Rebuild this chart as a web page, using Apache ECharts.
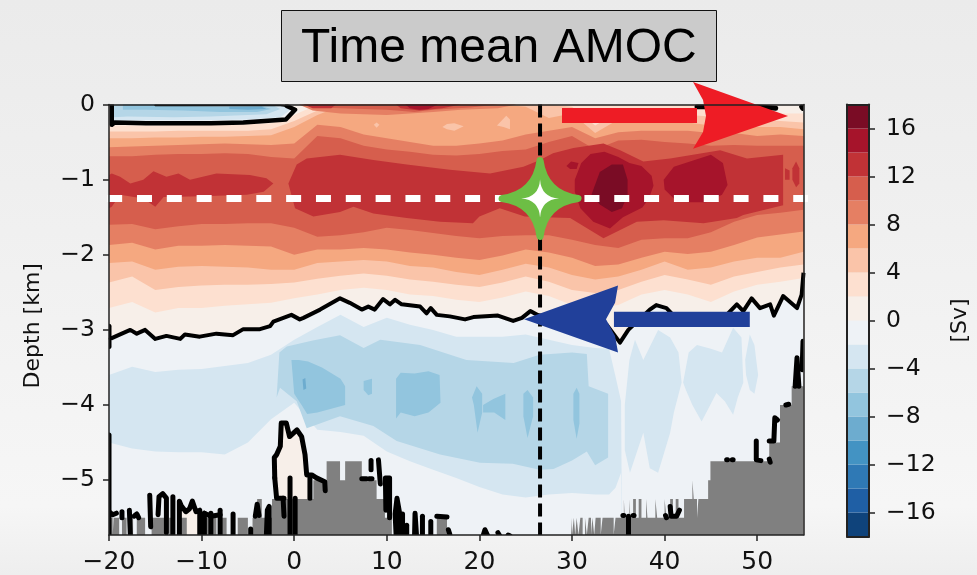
<!DOCTYPE html>
<html><head><meta charset="utf-8">
<style>html,body{margin:0;padding:0;background:#f0f0f0}#c{width:977px;height:575px}</style>
<script src="https://cdn.jsdelivr.net/npm/echarts@6/dist/echarts.min.js"></script>
</head><body><div id="c"></div>
<script>
const titleText = 'Time mean AMOC';
const yName = 'Depth [km]';
const cbName = '[Sv]';
const xTicks = [-20,-10,0,10,20,30,40,50];
const yTicks = [0,-1,-2,-3,-4,-5];
const cbTicks = [16,12,8,4,0,-4,-8,-12,-16];
const axisBottom = -5.73;

// colour levels (lower bound -> colour)
const levels = [-18,-16,-14,-12,-10,-8,-6,-4,-2,0,2,4,6,8,10,12,14,16];
const levelColors = ['#0f437b','#1f5fa5','#2f79b5','#4393c3','#6daccf','#92c5de','#b5d6e7','#d5e6f1','#eef2f6',
                     '#f7efe9','#fde0d0','#fac4a9','#f5a880','#e57f63','#d65e4d','#c13236','#a6142b','#7a0c25'];
const col = l => levelColors[levels.indexOf(l)];

const lats = [-20,-17.5,-15,-12.5,-10,-7.5,-5,-2.5,0,2.5,5,7.5,10,12.5,15,17.5,20,22.5,25,27.5,30,32.5,35,37.5,40,42.5,45,47.5,50,52.5,55];
const blueLats = [-20,-17.5,-15,-12.5,-10,-7.5,-5,-2.5,0,2.5,5,7.5,10,12.5,15,17.5,20,22.5,25,27.5,30,32.5,34,34.7,35.3,35.4,55];

// depth of contour boundaries, read top to bottom
const top2 = [-.28,-.28,-.28,-.27,-.27,-.27,-.26,-.25,-.14,0,0,0,0,0,0,0,0,0,0,0,0,0,0,0,0,0,-.02,-.06,-.1,-.12,-.12];
const top4 = [-.36,-.36,-.36,-.35,-.35,-.35,-.35,-.33,-.22,-.08,0,0,0,0,0,0,0,0,0,0,-.03,-.28,-.1,-.1,-.12,-.14,-.16,-.18,-.2,-.22,-.24];
const top6 = [-.45,-.45,-.44,-.44,-.43,-.43,-.42,-.41,-.3,-.14,-.02,0,0,0,0,0,0,0,-.03,-.18,-.12,-.38,-.2,-.2,-.22,-.24,-.28,-.28,-.3,-.3,-.33];
const top8 = [-.57,-.56,-.55,-.54,-.53,-.52,-.53,-.54,-.52,-.27,-.3,-.4,-.45,-.5,-.55,-.55,-.52,-.48,-.4,-.35,-.3,-.45,-.37,-.35,-.35,-.35,-.38,-.38,-.42,-.4,-.42];
const top10 = [-.69,-.69,-.67,-.66,-.66,-.65,-.66,-.7,-.72,-.42,-.45,-.55,-.6,-.63,-.67,-.68,-.66,-.62,-.6,-.5,-.42,-.6,-.48,-.47,-.5,-.52,-.55,-.54,-.55,-.55,-.55];
const low8 = [-1.6,-1.59,-1.66,-1.62,-1.59,-1.59,-1.58,-1.58,-1.64,-1.76,-1.74,-1.7,-1.64,-1.67,-1.71,-1.75,-1.78,-1.75,-1.74,-1.74,-1.8,-1.87,-1.91,-1.8,-1.78,-1.78,-1.7,-1.56,-1.47,-1.44,-1.4];
const low6 = [-1.87,-1.84,-1.93,-1.88,-1.88,-1.87,-1.88,-1.89,-2,-1.93,-1.93,-1.91,-1.93,-1.97,-2,-2.04,-2.07,-2.01,-1.93,-1.97,-2.04,-2.15,-2.13,-2.04,-1.96,-1.99,-1.96,-1.87,-1.77,-1.73,-1.69];
const low4 = [-2.11,-2.09,-2.2,-2.16,-2.15,-2.16,-2.17,-2.2,-2.2,-2.11,-2.09,-2.07,-2.09,-2.15,-2.17,-2.23,-2.27,-2.2,-2.12,-2.17,-2.27,-2.33,-2.29,-2.2,-2.09,-2.2,-2.17,-2.09,-2.04,-2.04,-1.96];
const low2 = [-2.37,-2.29,-2.47,-2.43,-2.41,-2.4,-2.4,-2.39,-2.37,-2.32,-2.28,-2.25,-2.28,-2.33,-2.36,-2.4,-2.43,-2.37,-2.29,-2.36,-2.47,-2.51,-2.47,-2.36,-2.27,-2.33,-2.4,-2.29,-2.23,-2.17,-2.13];
const low0 = [-2.71,-2.63,-2.77,-2.71,-2.71,-2.68,-2.66,-2.64,-2.58,-2.53,-2.47,-2.44,-2.47,-2.53,-2.55,-2.6,-2.63,-2.57,-2.49,-2.55,-2.67,-2.71,-2.67,-2.53,-2.47,-2.53,-2.63,-2.49,-2.4,-2.36,-2.31];
const blueTop = [-3.6,-3.49,-3.56,-3.53,-3.52,-3.48,-3.44,-3.33,-3.13,-2.96,-2.8,-2.96,-2.84,-2.93,-3,-3.09,-3.09,-3.09,-3.06,-3.13,-3.2,-3.24,-3.25,-3.62,-3.95,-5.73,-5.73];
const blueBottom = [-4.5,-4.58,-4.62,-4.63,-4.63,-4.66,-4.5,-4.19,-3.97,-4.33,-4.36,-4.41,-4.62,-4.75,-4.86,-4.97,-5.09,-5.19,-5.23,-5.19,-5.17,-5.19,-5.19,-5.1,-4.9,-5.73,-5.73];

// the zero contour of the overturning cell
const zeroContour = [[-20,-3.1],[-19.7,-3.11],[-18.8,-3.06],[-17.7,-3],[-17,-3.05],[-16.1,-3],[-15,-3.12],[-13.8,-3.08],[-12.3,-3.12],[-11.8,-3.06],[-10.2,-3.09],[-8.4,-3.05],[-6.6,-3.07],[-5.5,-2.99],[-3.7,-2.99],[-2.6,-2.95],[-2.25,-2.89],[-.3,-2.8],[.6,-2.86],[1,-2.84],[2.8,-2.73],[4.95,-2.58],[6,-2.64],[7.3,-2.73],[8,-2.69],[8.7,-2.73],[9.6,-2.59],[10.35,-2.66],[10.9,-2.6],[11.6,-2.66],[13.6,-2.69],[14.3,-2.78],[14.75,-2.71],[15.4,-2.8],[16.8,-2.82],[18.45,-2.86],[19.35,-2.83],[22,-2.81],[23.65,-2.88],[24.6,-2.84],[25.5,-2.75],[26.55,-2.82],[27.5,-2.85],[29,-2.9],[31,-2.9],[33.74,-2.93],[35.18,-3.17],[36.08,-3],[38.4,-2.73],[39.1,-2.67],[40.2,-2.71],[40.9,-2.8],[43,-2.85],[45,-2.85],[46.7,-2.8],[47.8,-2.66],[48.5,-2.75],[49.4,-2.58],[50.3,-2.71],[51.4,-2.66],[51.8,-2.81],[52.8,-2.55],[54.3,-2.71],[54.8,-2.53],[55,-2.24]];

// closed contour patches, as [lat, depth] outlines
const surfaceCell = [[-19.7,-.01],[-19.7,-.27],[-19.4,-.24],[-16,-.25],[-13,-.25],[-9,-.25],[-5.5,-.24],[-.9,-.2],[.09,-.07],[-.8,-.02],[-1.5,-.01],[-5,-.01]];
const surfaceN2 = [[-19.7,0],[-1.5,0],[-.4,-.07],[-1.5,-.17],[-5,-.2],[-10,-.21],[-15,-.21],[-19.7,-.22]];
const surfaceN4 = [[-19.5,0],[-2.5,0],[-1.5,-.06],[-3,-.13],[-9,-.16],[-13,-.17],[-18,-.16],[-19.5,-.17]];
const surfaceN6 = [[-18.5,0],[-15,0],[-12,-.02],[-8,-.03],[-3.5,-.02],[-2.5,-.06],[-4,-.1],[-8,-.1],[-12,-.08],[-16,-.07],[-18.5,-.07]];
const surfaceN8 = [[-7,-.03],[-3.5,-.03],[-3,-.06],[-5,-.07],[-7,-.06]];
const surfaceP8 = [[.5,0],[24,0],[22,-.05],[18,-.07],[15,-.1],[10,-.14],[5,-.12],[2,-.08]];
const surfaceP10 = [[.8,0],[22,0],[19,-.04],[15,-.07],[13,-.1],[10,-.07],[5,-.05],[3,-.04]];
const surfaceP12a = [[1,0],[4.5,0],[4,-.05],[2,-.05]];
const surfaceP12b = [[11,0],[18,0],[16,-.05],[13.5,-.08],[11.5,-.05]];
const surfaceP14 = [[12,0],[15.5,0],[14.5,-.06],[13.5,-.07],[12.5,-.05]];
const light4a = [[8.6,-.27],[8.9,-.24],[9.2,-.27],[8.9,-.31]];
const light4b = [[16,-.3],[16.5,-.26],[17.3,-.25],[18.3,-.29],[17.3,-.35],[16.5,-.33]];
const light4c = [[21.9,-.28],[22.9,-.15],[23.3,-.2],[23.3,-.33],[22.6,-.3]];
const core12Left = [[-20,-.94],[-19.7,-.92],[-18.8,-.96],[-17.7,-1.05],[-16.3,-1],[-15.2,-.89],[-13.8,-.96],[-12.5,-.92],[-11.25,-1],[-8.4,-.92],[-4.8,-.94],[-3,-.98],[-2.25,-1.05],[-3.3,-1.16],[-5.1,-1.2],[-10,-1.22],[-14.1,-1.23],[-15,-1.36],[-16.3,-1.25],[-18.8,-1.2],[-19.7,-1.36],[-20,-1.38]];
const core12Main = [[-.63,-1.05],[.27,-.8],[1.35,-.72],[4.95,-.67],[8.55,-.74],[12.15,-.8],[16.8,-.87],[21.15,-.92],[24.75,-.83],[26.55,-.74],[27.95,-.65],[30.15,-.58],[33.4,-.52],[35.2,-.61],[37.7,-.76],[40.6,-.72],[46,-.61],[48.9,-.72],[52.8,-.67],[52.8,-1.07],[52.8,-1.34],[48.5,-1.47],[47.8,-1.51],[44.2,-1.58],[39.9,-1.54],[37,-1.56],[33.4,-1.78],[29.8,-1.51],[27,-1.5],[24.9,-1.49],[22.2,-1.38],[20,-1.49],[19.3,-1.58],[15.75,-1.56],[12.15,-1.51],[8.55,-1.45],[6.4,-1.36],[4.95,-1.43],[2.07,-1.49],[.09,-1.38]];
const core12c = [[53,-.85],[53.5,-.88],[53.5,-1],[53,-1]];
const core12d = [[53.8,-.85],[54.2,-.76],[54.55,-.85],[54.55,-1.05],[54.2,-1.1],[53.8,-1]];
const core14a = [[30.3,-1],[31,-.78],[32,-.66],[33.5,-.63],[35,-.7],[36.2,-.78],[37.5,-.82],[38.6,-.95],[38.8,-1.08],[38.3,-1.25],[37.6,-1.37],[35.5,-1.5],[34.1,-1.65],[32.3,-1.56],[30.9,-1.38],[30.3,-1.16]];
const core14b = [[39.9,-1],[41,-.83],[43,-.75],[45,-.67],[46.3,-.78],[46.8,-1.07],[46.2,-1.2],[44.5,-1.3],[42.6,-1.3],[41,-1.25],[40,-1.13]];
const core14c = [[29.4,-.82],[29.9,-.76],[30.7,-.78],[30.5,-.86],[29.8,-.86]];
const core16 = [[32.1,-1.2],[33,-.9],[34.3,-.8],[35.5,-.8],[36,-1],[36,-1.2],[35.4,-1.38],[34.3,-1.43],[33,-1.33]];
const deepN6 = [[-1.9,-3.9],[-1.6,-3.3],[-.8,-3.22],[2,-3.14],[4.95,-3.07],[7.5,-3.24],[9.3,-3.13],[13.6,-3.2],[18.6,-3.4],[23.7,-3.44],[26.5,-3.33],[30,-3.3],[31.6,-3.32],[31.8,-3.75],[33.9,-3.85],[33.9,-4.7],[32.5,-4.8],[31.6,-4.62],[30,-4.74],[28,-4.85],[26.5,-4.86],[23.6,-4.78],[20.07,-4.77],[15.75,-4.66],[11.07,-4.48],[8.55,-4.28],[4.95,-4.15],[1.35,-4.31],[.27,-3.95],[-1.53,-3.77]];
const deepN8a = [[-.3,-3.4],[.5,-3.4],[1.5,-3.42],[3,-3.5],[5,-3.65],[5.5,-3.75],[5.5,-4],[4,-4.05],[2.5,-4.1],[1.4,-4.12],[.8,-4],[0,-3.85]];
const deepN8b = [[11,-3.65],[11.5,-3.57],[13,-3.58],[14.5,-3.55],[15.7,-3.6],[15.8,-3.97],[14.5,-4.1],[13,-4.15],[11.5,-4.1],[11,-4.18]];
const deepN8c = [[19.2,-3.9],[19.7,-3.75],[20.3,-3.85],[20.3,-4.1],[19.8,-4.37],[19.4,-4]];
const deepN8d = [[20.4,-4],[21.5,-3.92],[22.8,-3.85],[22.8,-4.2],[21.6,-4.1],[20.4,-4.1]];
const deepN8e = [[24.75,-3.85],[25.2,-3.8],[25.8,-3.9],[25.8,-4.15],[25.2,-4.44],[24.75,-4.15]];
const deepN8f = [[30.15,-3.85],[30.5,-3.77],[30.8,-3.85],[30.8,-4.25],[30.5,-4.45],[30.15,-4.2]];
const deepN8g = [[7.5,-3.68],[8.4,-3.65],[8.4,-3.85],[8,-3.87],[7.5,-3.8]];
const deepN10 = [[.9,-3.66],[1.2,-3.64],[1.3,-3.78],[1,-3.8]];
const plumeA = [[35.7,-4],[36.2,-3.4],[36.8,-3.13],[37.7,-3.4],[39.3,-3],[40.6,-3.1],[41.5,-3.3],[41.84,-3.7],[41,-4.1],[40.6,-4.37],[39.3,-4.9],[38.4,-4.84],[37.7,-4.37],[36.26,-4.9],[35.7,-4.6]];
const plumeB = [[42,-3.7],[42.6,-3.3],[43.5,-3.2],[45,-3.25],[46.2,-3.3],[47.4,-2.97],[48.3,-3.1],[48.5,-3.7],[47.9,-3.9],[47.4,-4.13],[46.5,-3.95],[45.6,-3.84],[44,-4.22],[43,-4],[42.3,-3.8]];
const plumeC = [[48.7,-3.4],[49.2,-3.06],[49.7,-3.2],[50.1,-3.6],[49.7,-3.85],[49.2,-3.8],[48.8,-3.6]];
const seamountCell = [[-2.07,-5.25],[-2.1,-4.97],[-2.15,-4.7],[-1.9,-4.66],[-1.5,-4.55],[-1.4,-4.24],[-.85,-4.24],[-.5,-4.42],[.3,-4.33],[.8,-4.42],[1.17,-4.66],[1.35,-4.93],[1.9,-4.93],[1.9,-5.25]];
const ridgeCell = [[-12.3,-5.72],[-12.3,-5.35],[-11.7,-5.42],[-11,-5.3],[-10.3,-5.42],[-10.3,-5.72]];

// bottom topography, step edges
const bathymetry = [[-20,-5.5],[-19.6,-5.73],[-19.5,-5.5],[-18.9,-5.73],[-18.6,-5.5],[-18.1,-5.73],[-17.8,-5.5],[-17.4,-5.73],[-17,-5.5],[-16.1,-5.73],[-15.4,-5.5],[-14,-5.73],[-13.5,-5.5],[-13.1,-5.73],[-12.3,-5.5],[-11.6,-5.73],[-10.2,-5.5],[-8.4,-5.73],[-7.9,-5.5],[-7.3,-5.73],[-6.7,-5.5],[-6.4,-5.73],[-6.1,-5.5],[-5,-5.73],[-4.5,-5.5],[-4,-5.25],[-3.5,-5.5],[-2.4,-5.25],[2.07,-5],[3.5,-4.75],[4.95,-5],[5.5,-4.75],[7.3,-5],[8.9,-5.25],[9.8,-5.5],[10.55,-5.73],[15.4,-5.5],[16.5,-5.73],[29.9,-5.5],[30,-5.73],[30.2,-5.5],[30.35,-5.73],[30.5,-5.5],[30.7,-5.73],[30.9,-5.5],[31.15,-5.73],[31.4,-5.5],[31.6,-5.73],[31.8,-5.5],[32.05,-5.73],[32.2,-5.5],[32.4,-5.73],[32.55,-5.5],[33.1,-5.73],[33.3,-5.5],[34.5,-5.73],[34.7,-5.5],[35.6,-5.25],[35.7,-5.5],[36.2,-5.25],[36.3,-5.5],[36.6,-5.25],[36.9,-5.5],[37.2,-5.25],[37.5,-5.5],[38,-5.25],[38.15,-5.5],[39,-5.25],[39.2,-5.5],[40,-5.25],[40.2,-5.5],[40.6,-5.25],[40.9,-5.5],[41.2,-5.25],[41.5,-5.5],[42.1,-5.25],[43,-5],[43.15,-5.25],[43.5,-5.5],[43.65,-5.25],[44.7,-5],[44.95,-4.75],[51.3,-4.5],[52.46,-4],[53.72,-3.75],[55,-3.75]];

// zero contour pieces that hug the bottom
const seabedContours = [
 [[-20,-2.95],[-20,-3.22]],[[-20,-4.4],[-20,-5.73]],
 [[-20,-5.42],[-19.6,-5.46],[-19.2,-5.44]],[[-18.6,-5.42],[-18.6,-5.5]],[[-17.8,-5.4],[-17.7,-5.72]],[[-17.3,-5.48],[-17,-5.45],[-16.8,-5.5]],
 [[-15.6,-5.2],[-15.5,-5.62]],[[-14.7,-5.46],[-14.6,-5.22],[-14.2,-5.18],[-13.8,-5.24],[-13.8,-5.7]],[[-13.1,-5.22],[-13.1,-5.72]],
 [[-12.4,-5.72],[-12.4,-5.28],[-12.2,-5.34],[-11.7,-5.42],[-11.3,-5.38],[-11,-5.28],[-10.6,-5.42],[-10.2,-5.4],[-10.2,-5.72]],
 [[-9.7,-5.44],[-9.7,-5.72]],[[-9,-5.44],[-9,-5.72]],[[-9.7,-5.44],[-9,-5.48],[-8,-5.46]],[[-8,-5.4],[-8,-5.72]],[[-6.6,-5.45],[-6.6,-5.72]],[[-4.7,-5.65],[-4.7,-5.72]],
 [[-4.2,-5.48],[-4,-5.32],[-3.8,-5.47]],[[-3,-5.72],[-2.9,-5.4],[-2.7,-5.35],[-2.7,-5.72]],
 [[-2.1,-4.97],[-2.15,-4.7],[-1.9,-4.66],[-1.5,-4.55],[-1.4,-4.24],[-.85,-4.24],[-.5,-4.42],[.3,-4.33],[.8,-4.42],[1.17,-4.66],[1.35,-4.93],[1.9,-4.93],[2.4,-4.97],[3.3,-5.02],[3.35,-5.14]],
 [[-2.1,-4.97],[-1.9,-5.24],[-1.1,-5.24]],[[-1.2,-5.24],[-1.1,-5.48]],[[-.45,-4.97],[-.45,-5.72]],[[.1,-5.24],[.1,-5.72]],[[1.7,-4.97],[1.7,-5.24]],
 [[7.3,-4.98],[7.8,-4.98]],[[8.1,-4.98],[8.4,-4.98]],[[8.3,-4.74],[8.3,-4.86]],[[9.1,-4.73],[9.3,-5.05]],[[9.9,-5.4],[9.85,-4.97],[10.3,-4.97],[10.3,-5.5]],
 [[11,-5.72],[10.9,-5.45],[11.1,-5.24],[11.4,-5.45],[11.5,-5.72]],[[11.7,-5.45],[11.7,-5.72]],[[12.15,-5.6],[12.15,-5.72]],[[13,-5.72],[13.05,-5.44],[13.2,-5.72]],[[13.85,-5.48],[13.85,-5.72]],[[14.75,-5.55],[14.75,-5.72]],[[15.4,-5.48],[16.5,-5.49]],[[16.65,-5.66],[16.8,-5.72]],
 [[20.4,-5.74],[20.6,-5.66],[20.9,-5.74]],[[22,-5.7],[22.2,-5.74]],[[23.1,-5.73],[23.3,-5.74]],
 [[36.1,-5.48],[36.1,-5.72]],[[35.5,-5.47],[35.6,-5.47]],[[36.6,-5.47],[36.7,-5.47]],[[40.1,-5.47],[40.2,-5.5]],[[40.6,-5.35],[40.7,-5.48],[41.3,-5.48],[41.6,-5.4]],
 [[46.7,-4.73],[46.8,-4.73]],[[47.3,-4.73],[47.4,-4.73]],[[49.9,-4.48],[49.9,-4.73],[50.4,-4.74]],[[51.3,-4.72],[51.4,-4.76]],[[51.3,-4.48],[51.8,-4.48],[51.9,-4.17],[52.2,-4.2]],[[53.1,-4],[53.4,-3.99]],
 [[54.1,-3.75],[54.3,-3.37],[54.5,-3.75]],[[54.95,-3.15],[54.85,-3.53]],
 [[43.5,-.03],[46.3,-.03]],[[50,-.03],[52,-.05]],[[54.8,-.03],[54.9,-.05]]
];
const surfaceLower = surfaceCell.slice(0,10);
const surfaceUpper = surfaceCell.slice(9).concat([[-15,-.01]]);

// annotations
const sectionLat = 26.55;
const sectionDepth = -1.25;
const sectionLine = [[sectionLat,0],[sectionLat,axisBottom]];
const depthLine = [[-20.2,sectionDepth],[57.4,sectionDepth]];
const redBar = [[28.92,-.047],[43.5,-.047],[43.5,-.246],[28.92,-.246]];
const redHead = [[53.33,-.153],[43.07,.3],[44.15,.06],[44.47,-.153],[44.15,-.366],[43.07,-.59]];
const blueBar = [[34.53,-2.76],[49.2,-2.76],[49.2,-2.96],[34.53,-2.96]];
const blueHead = [[24.82,-2.86],[34.97,-2.41],[34.65,-2.64],[33.67,-2.86],[34.65,-3.08],[34.97,-3.3]];

const labelFont = 'DejaVu Sans', tickSize = 23.5, ink = '#111';
const minus = v => String(v).replace('-', '\u2212');
const star = k => `path://M50 0Q${50+k} ${50-k} 100 50Q${50+k} ${50+k} 50 100Q${50-k} ${50+k} 0 50Q${50-k} ${50-k} 50 0Z`;

function horizon(xs, ys, level, z) {
  return {type:'line', data: xs.map((x,i)=>[x,ys[i]]), symbol:'none', silent:true, z:z||2,
    lineStyle:{width:0}, areaStyle:{color:col(level), opacity:1, origin:'start'}};
}
function fills(color, polys, z) {
  return {type:'custom', coordinateSystem:'cartesian2d', silent:true, z:z||2,
    data: polys.map(p=>p[0]),
    renderItem:(params,api)=>({type:'polygon', shape:{points:polys[params.dataIndex].map(pt=>api.coord(pt))}, style:{fill:color}})};
}
function strokes(lines, width, z) {
  return {type:'custom', coordinateSystem:'cartesian2d', silent:true, z:z||4,
    data: lines.map(p=>p[0]),
    renderItem:(params,api)=>({type:'polyline', shape:{points:lines[params.dataIndex].map(pt=>api.coord(pt))},
      clipPath:{type:'rect',shape:{x:params.coordSys.x,y:params.coordSys.y,width:params.coordSys.width,height:params.coordSys.height}},
      style:{fill:'none', stroke:'#000', lineWidth:width, lineCap:'round', lineJoin:'round'}})};
}
const frameX = {min:-20,max:55,interval:10};
const series = [
  {type:'line', data: lats.map(x=>[x,0]), symbol:'none', silent:true, z:2, lineStyle:{width:0}, areaStyle:{color:col(0),opacity:1,origin:'start'}},
  horizon(lats, top2, 2), horizon(lats, top4, 4), horizon(lats, top6, 6), horizon(lats, top8, 8), horizon(lats, top10, 10),
  horizon(lats, low8, 8), horizon(lats, low6, 6), horizon(lats, low4, 4), horizon(lats, low2, 2), horizon(lats, low0, 0),
  {type:'line', data: zeroContour, symbol:'none', silent:true, z:2, lineStyle:{width:0}, areaStyle:{color:col(-2),opacity:1,origin:'start'}},
  horizon(blueLats, blueTop, -4), horizon(blueLats, blueBottom, -2),
  fills(col(-4), [plumeA, plumeB, plumeC]),
  fills(col(-6), [deepN6]),
  fills(col(-8), [deepN8a, deepN8b, deepN8c, deepN8d, deepN8e, deepN8f, deepN8g]),
  fills(col(-10), [deepN10]),
  fills(col(4), [light4a, light4b, light4c]),
  fills(col(8), [surfaceP8]), fills(col(10), [surfaceP10]), fills(col(12), [surfaceP12a, surfaceP12b]), fills(col(14), [surfaceP14]),
  fills(col(12), [core12Left, core12Main, core12c, core12d]),
  fills(col(14), [core14a, core14b, core14c]),
  fills(col(16), [core16]),
  fills(col(-2), [surfaceCell]), fills(col(-4), [surfaceN2]), fills(col(-6), [surfaceN4]), fills(col(-8), [surfaceN6]), fills(col(-10), [surfaceN8]),
  fills(col(0), [seamountCell, ridgeCell]),
  {type:'line', data: bathymetry, step:'end', symbol:'none', silent:true, z:3, lineStyle:{width:0}, areaStyle:{color:'#808080',opacity:1,origin:'start'}},
  {type:'line', data: zeroContour, symbol:'none', silent:true, z:4, lineStyle:{color:'#000',width:4,join:'round'}},
  strokes([surfaceLower], 4.5),
  strokes([surfaceUpper], 2),
  strokes(seabedContours, 5),
  {type:'line', data: sectionLine, symbol:'none', silent:true, z:5, lineStyle:{color:'#000',width:4,type:[13,6]}},
  {type:'line', data: depthLine, symbol:'none', silent:true, clip:false, z:5, lineStyle:{color:'#fff',width:7,type:[15,14.83]}},
  fills('#ee1c25', [redBar, redHead], 6),
  fills('#21409a', [blueBar, blueHead], 6),
  {type:'scatter', data:[[sectionLat,sectionDepth]], symbol:star(6), symbolSize:76, silent:true, clip:false, z:7,
    itemStyle:{color:'#6dbe45', borderColor:'#6dbe45', borderWidth:7, borderJoin:'round', opacity:1}},
  {type:'scatter', data:[[sectionLat,sectionDepth]], symbol:star(3), symbolSize:38, silent:true, clip:false, z:8,
    itemStyle:{color:'#fff', opacity:1}},
  {type:'custom', coordinateSystem:'cartesian2d', xAxisIndex:2, yAxisIndex:2, silent:true, z:2,
    data: levels.map(l=>[0,l]),
    renderItem:(params,api)=>{
      const a=api.coord([0,api.value(1)]), b=api.coord([1,api.value(1)+2]);
      return {type:'rect', shape:{x:a[0],y:b[1],width:b[0]-a[0],height:a[1]-b[1]}, style:{fill:levelColors[params.dataIndex]}};
    }}
];
const line = {show:true, onZero:false, lineStyle:{color:'#222', width:1.5}};
const cbLine = {show:true, onZero:false, lineStyle:{color:'#222', width:2}};
const tick = {show:true, length:6, lineStyle:{color:'#222', width:1.5}};
const yLabel = {fontFamily:labelFont,fontSize:tickSize,color:ink,formatter:minus,padding:[8,0,0,0]};
const option = {
  animation:false,
  backgroundColor:{type:'linear',x:0,y:0,x2:0,y2:1,colorStops:[{offset:0,color:'#ebebeb'},{offset:.88,color:'#f6f6f6'},{offset:1,color:'#eeeeee'}]},
  title:{text:titleText,left:281,top:10,padding:[14,20,8,20],backgroundColor:'#cbcbcb',borderColor:'#111',borderWidth:1,
    textStyle:{fontFamily:'Liberation Sans',fontSize:48,fontWeight:'normal',color:'#000',lineHeight:50}},
  grid:[{left:109,right:173.5,top:104.5,bottom:39.5},{left:847,right:108,top:104.5,bottom:38.5}],
  xAxis:[
    Object.assign({type:'value',gridIndex:0,position:'bottom',z:10,axisLine:line,axisTick:Object.assign({customValues:xTicks},tick),splitLine:{show:false},
      axisLabel:{customValues:xTicks,fontFamily:labelFont,fontSize:25,color:ink,margin:15,formatter:minus}},frameX),
    Object.assign({type:'value',gridIndex:0,position:'top',z:10,axisLine:line,axisTick:{show:false},axisLabel:{show:false},splitLine:{show:false}},frameX),
    {type:'value',gridIndex:1,position:'bottom',min:0,max:1,z:10,axisLine:cbLine,axisTick:{show:false},axisLabel:{show:false},splitLine:{show:false}},
    {type:'value',gridIndex:1,position:'top',min:0,max:1,z:10,axisLine:cbLine,axisTick:{show:false},axisLabel:{show:false},splitLine:{show:false}}
  ],
  yAxis:[
    {type:'value',gridIndex:0,position:'left',min:axisBottom,max:0,z:10,axisLine:line,
      axisTick:Object.assign({customValues:yTicks},tick),splitLine:{show:false},
      axisLabel:Object.assign({customValues:yTicks,margin:14},yLabel),
      name:yName,nameLocation:'middle',nameGap:65,nameTextStyle:{fontFamily:labelFont,fontSize:22,color:ink,padding:[0,12,0,0]}},
    {type:'value',gridIndex:0,position:'right',min:axisBottom,max:0,z:10,axisLine:line,axisTick:{show:false},axisLabel:{show:false},splitLine:{show:false}},
    {type:'value',gridIndex:1,position:'right',min:-18,max:18,interval:2,z:10,axisLine:cbLine,
      axisTick:Object.assign({customValues:cbTicks},tick),splitLine:{show:false},
      axisLabel:Object.assign({customValues:cbTicks,margin:17},yLabel),
      name:cbName,nameLocation:'middle',nameRotate:90,nameGap:80,nameTextStyle:{fontFamily:labelFont,fontSize:22,color:ink}},
    {type:'value',gridIndex:1,position:'left',min:-18,max:18,z:10,axisLine:cbLine,axisTick:{show:false},axisLabel:{show:false},splitLine:{show:false}}
  ],
  series: series.map(s=> (s.xAxisIndex===undefined ? Object.assign(s,{xAxisIndex:0,yAxisIndex:0}) : s))
};
const chart = echarts.init(document.getElementById('c'), null, {renderer:'canvas', width:977, height:575});
chart.setOption(option);
</script></body></html>
